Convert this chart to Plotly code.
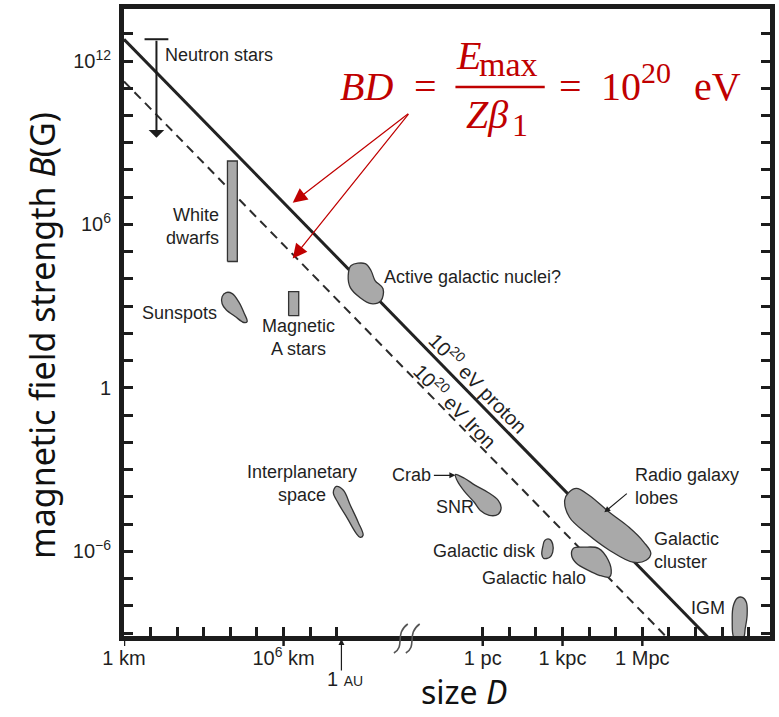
import plotly.graph_objects as go

# ---------------------------------------------------------------------------
# Hillas diagram: magnetic field strength B versus size D of candidate sources
# All coordinates are decades: x = log10(D / km), y = log10(B / G)
# ---------------------------------------------------------------------------

W, H = 779, 717
ML, MR, MT, MB = 124, 4, 8, 81

X_RANGE = [0.0, 24.29]
Y_RANGE = [-9.11, 13.91]

PC_KM = 13.489          # log10(1 pc in km)
AU_KM = 8.175           # log10(1 AU in km)

# B*D = E_max / (Z beta) for 10^20 eV, in G*km (log10)
PROTON_LOG_BD = 12.8
IRON_LOG_BD = 11.25
LINE_LOGD = [0.0, 24.5]

# Source regions (outline vertices)
neutron_logD = 1.22
neutron_logB = [12.80, 9.18]

white_dwarfs_logD = [3.89, 4.26]
white_dwarfs_logB = [4.64, 8.33]

a_stars_logD = [6.19, 6.57]
a_stars_logB = [2.65, 3.53]

sunspots_logD = [3.84, 4.07, 4.33, 4.51, 4.63, 4.51, 4.18, 3.84, 3.69, 3.69]
sunspots_logB = [3.50, 3.46, 3.13, 2.76, 2.43, 2.40, 2.62, 2.87, 3.09, 3.35]

agn_logD = [8.54, 9.07, 9.29, 9.44, 9.74, 9.66, 9.29, 8.88, 8.51, 8.43]
agn_logB = [4.49, 4.56, 4.30, 3.94, 3.64, 3.20, 3.09, 3.31, 3.68, 4.12]

interplanetary_logD = [7.98, 8.25, 8.51, 8.81, 8.99, 8.88, 8.73, 8.40, 8.06, 7.87]
interplanetary_logB = [-3.62, -3.76, -4.31, -4.94, -5.41, -5.49, -5.34, -4.79, -4.24, -3.84]

snr_logD = [12.46, 12.80, 13.21, 13.69, 14.07, 14.18, 14.07, 13.73, 13.40, 13.17, 12.80, 12.54]
snr_logB = [-3.18, -3.32, -3.58, -3.84, -4.13, -4.39, -4.64, -4.68, -4.50, -4.20, -3.80, -3.43]

disk_logD = [15.82, 16.01, 16.12, 16.12, 16.01, 15.78, 15.71, 15.75]
disk_logB = [-5.60, -5.56, -5.74, -6.03, -6.22, -6.26, -6.11, -5.82]

halo_logD = [16.90, 17.31, 17.84, 18.21, 18.32, 18.25, 17.87, 17.46, 17.01, 16.83]
halo_logB = [-5.89, -5.85, -5.89, -6.33, -6.80, -6.95, -6.88, -6.70, -6.44, -6.15]

lobes_logD = [16.72, 17.01, 17.50, 18.25, 18.99, 19.55, 19.81, 19.63, 19.14, 18.25, 17.39, 16.75, 16.57]
lobes_logB = [-3.84, -3.69, -3.95, -4.57, -5.12, -5.67, -6.07, -6.33, -6.40, -5.96, -5.34, -4.75, -4.13]

igm_logD = [22.95, 22.87, 22.91, 23.06, 23.25, 23.40, 23.43, 23.36, 23.28]
igm_logB = [-9.19, -8.53, -8.01, -7.72, -7.69, -7.87, -8.34, -8.82, -9.19]

# Axis ticks
y_tickvals = list(range(-9, 14))
y_labels = {12: "10<sup>12</sup>", 6: "10<sup>6</sup>", 0: "1", -6: "10<sup>\u22126</sup>"}
x_km_ticks = list(range(0, 9))
x_pc_ticks = [PC_KM + k for k in range(11)]
x_labels = {0: "1 km", 6: "10<sup>6</sup> km", PC_KM: "1 pc",
            PC_KM + 3: "1 kpc", PC_KM + 6: "1 Mpc"}

INK = "#1c1c1c"
FILL = "#a9a9a9"
RED = "#C00000"
SANS = "Liberation Sans, Arial, sans-serif"
LABEL_FONT = dict(family=SANS, size=18, color="#1f1f1f")

PW = W - ML - MR
PH = H - MT - MB


def px(x):
    return (x - ML) / PW


def py(y):
    return (H - MB - y) / PH


def closed(a):
    return list(a) + [a[0]]


def box(xr, yr):
    return ([xr[0], xr[1], xr[1], xr[0], xr[0]],
            [yr[0], yr[0], yr[1], yr[1], yr[0]])


fig = go.Figure()

# 10^20 eV limits
fig.add_trace(go.Scatter(
    x=LINE_LOGD, y=[PROTON_LOG_BD - d for d in LINE_LOGD], mode="lines",
    line=dict(color="#222222", width=3), hoverinfo="skip"))
fig.add_trace(go.Scatter(
    x=LINE_LOGD, y=[IRON_LOG_BD - d for d in LINE_LOGD], mode="lines",
    line=dict(color="#2b2b2b", width=2, dash="9px,6px"), hoverinfo="skip"))

blob_line = dict(color="#333333", width=1.3, shape="spline", smoothing=1.0)
for bx, by in [(sunspots_logD, sunspots_logB), (agn_logD, agn_logB),
               (interplanetary_logD, interplanetary_logB), (snr_logD, snr_logB),
               (disk_logD, disk_logB), (halo_logD, halo_logB),
               (lobes_logD, lobes_logB), (igm_logD, igm_logB)]:
    fig.add_trace(go.Scatter(x=closed(bx), y=closed(by), mode="lines", fill="toself",
                             fillcolor=FILL, line=blob_line, hoverinfo="skip"))

for xr, yr in [(white_dwarfs_logD, white_dwarfs_logB), (a_stars_logD, a_stars_logB)]:
    bx, by = box(xr, yr)
    fig.add_trace(go.Scatter(x=bx, y=by, mode="lines", fill="toself", fillcolor=FILL,
                             line=dict(color="#333333", width=1.3), hoverinfo="skip"))

# Neutron star range: capped bar with a downward arrow
fig.add_trace(go.Scatter(x=[neutron_logD], y=[neutron_logB[0]], mode="markers",
                         marker=dict(symbol="line-ew", size=17,
                                     line=dict(color=INK, width=2)),
                         hoverinfo="skip"))

annotations = [
    dict(x=neutron_logD, y=neutron_logB[1], ax=neutron_logD, ay=neutron_logB[0],
         axref="x", ayref="y", xref="x", yref="y", text="", showarrow=True,
         arrowhead=1, arrowsize=1.3, arrowwidth=2, arrowcolor=INK),
]


def label(text, x, y, xanchor="center", align="center", angle=0, font=None):
    annotations.append(dict(x=x, y=y, xref="x", yref="y", text=text, showarrow=False,
                            xanchor=xanchor, yanchor="middle", align=align,
                            textangle=angle, font=font or LABEL_FONT))


label("Neutron stars", 1.46, 12.22, xanchor="left")
label("White<br>dwarfs", 3.66, 5.91, xanchor="right", align="right")
label("Sunspots", 3.58, 2.76, xanchor="right")
label("Magnetic<br>A stars", 6.57, 1.85)
label("Active galactic nuclei?", 9.70, 4.08, xanchor="left")
label("Interplanetary<br>space", 6.68, -3.52)
label("Crab", 11.60, -3.21, xanchor="right")
label("SNR", 12.43, -4.39)
label("Galactic disk", 15.56, -6.00, xanchor="right")
label("Galactic halo", 15.43, -6.99)
label("Radio galaxy<br>lobes", 19.14, -3.63, xanchor="left", align="left")
label("Galactic<br>cluster", 19.85, -5.96, xanchor="left", align="left")
label("IGM", 22.69, -8.09, xanchor="right")
label("10<sup>20</sup> eV proton", 13.36, 0.20, angle=45.6,
      font=dict(family=SANS, size=20, color="#1f1f1f"))
label("10<sup>20</sup> eV Iron", 12.50, -0.65, angle=45.6,
      font=dict(family=SANS, size=20, color="#1f1f1f"))

# Pointer arrows for Crab and radio lobes
annotations.append(dict(x=12.46, y=-3.21, xref="x", yref="y", ax=-23, ay=0, text="",
                        showarrow=True, arrowhead=2, arrowsize=1, arrowwidth=1.2,
                        arrowcolor=INK))
annotations.append(dict(x=18.06, y=-4.57, xref="x", yref="y", ax=24, ay=-20, text="",
                        showarrow=True, arrowhead=2, arrowsize=1, arrowwidth=1.2,
                        arrowcolor=INK))

# 1 AU marker below the axis
annotations.append(dict(x=AU_KM, y=py(639), xref="x", yref="paper", ax=0, ay=33,
                        text="", showarrow=True, arrowhead=2, arrowsize=1,
                        arrowwidth=1.2, arrowcolor=INK))
annotations.append(dict(x=AU_KM, y=py(679), xref="x", yref="paper", xshift=4,
                        xanchor="center", yanchor="middle",
                        text="1 <span style='font-size:14px'>AU</span>", showarrow=False,
                        font=dict(family=SANS, size=20, color="#1f1f1f")))

# Axis titles
TITLE_FONT = dict(family="Noto Sans, sans-serif", size=34, color="#111111")
annotations.append(dict(x=px(42), y=py(335), xref="paper", yref="paper",
                        xanchor="center", yanchor="middle",
                        text="magnetic field strength <i>B</i>(G)", textangle=-90,
                        showarrow=False, font=TITLE_FONT))
annotations.append(dict(x=px(467), y=py(692), xref="paper", yref="paper",
                        xanchor="center", yanchor="middle", borderpad=0,
                        text="size <i>D</i>", showarrow=False,
                        font=dict(family="Noto Sans, sans-serif", size=32,
                                  color="#111111")))

# Hillas condition, in red
SERIF = "Liberation Serif, Times New Roman, serif"


def eq(text, x, y, size, xanchor="center"):
    annotations.append(dict(x=px(x), y=py(y), xref="paper", yref="paper", text=text,
                            showarrow=False, xanchor=xanchor, yanchor="middle",
                            font=dict(family=SERIF, size=size, color=RED)))


eq("<i>BD</i>", 368, 86, 40)
eq("=", 428, 86, 40)
eq("<i>E</i>", 457, 55, 40, xanchor="left")
eq("max", 480, 64, 34, xanchor="left")
eq("<i>Z\u03b2</i>", 467, 114, 40, xanchor="left")
eq("1", 513, 124, 32, xanchor="left")
eq("=", 574, 86, 40)
eq("10", 603, 86, 40, xanchor="left")
eq("20", 643, 72, 30, xanchor="left")
eq("eV", 696, 86, 40, xanchor="left")

for tip_y in (202, 258):
    annotations.append(dict(x=px(294), y=py(tip_y), xref="paper", yref="paper",
                            ax=411 - 294, ay=112 - tip_y, text="", showarrow=True,
                            arrowhead=2, arrowsize=2.4, arrowwidth=1.2, arrowcolor=RED))

shapes = [
    # fraction bar
    dict(type="line", xref="paper", yref="paper", x0=px(458), x1=px(548),
         y0=py(86), y1=py(86), line=dict(color=RED, width=2.5)),
]
# labelled x ticks cross the axis
for v in x_labels:
    shapes.append(dict(type="line", xref="x", yref="paper", x0=v, x1=v, y0=0,
                       y1=-10 / PH, line=dict(color=INK, width=2.5)))


# axis-break squiggles
def squiggle(x0):
    p = [(x0, 653), (x0 + 12, 646), (x0, 634), (x0 + 14, 624)]
    s = "M {},{} C {},{} {},{} {},{}".format(
        *[v for (a, b) in p for v in (px(a), py(b))])
    return dict(type="path", xref="paper", yref="paper", path=s,
                line=dict(color="#555555", width=1.6))


shapes.append(squiggle(396))
shapes.append(squiggle(408))

fig.update_layout(
    width=W, height=H, margin=dict(l=ML, r=MR, t=MT, b=MB),
    paper_bgcolor="white", plot_bgcolor="white", showlegend=False,
    annotations=annotations, shapes=shapes,
    xaxis=dict(range=X_RANGE, showgrid=False, zeroline=False, showline=True,
               linecolor=INK, linewidth=5, mirror=True, ticks="inside", ticklen=9,
               tickwidth=2.5, tickcolor=INK,
               tickvals=x_km_ticks + x_pc_ticks,
               ticktext=[x_labels.get(v, "") for v in x_km_ticks + x_pc_ticks],
               tickfont=dict(family=SANS, size=20, color="#1f1f1f"),
               ticklabelstandoff=0),
    yaxis=dict(range=Y_RANGE, showgrid=False, zeroline=False, showline=True,
               linecolor=INK, linewidth=5, mirror="ticks", ticks="inside", ticklen=9,
               tickwidth=2.5, tickcolor=INK,
               tickvals=y_tickvals, ticktext=[y_labels.get(v, "") for v in y_tickvals],
               tickfont=dict(family=SANS, size=20, color="#1f1f1f"),
               ticklabelstandoff=4),
)

fig.write_html("out.html")
